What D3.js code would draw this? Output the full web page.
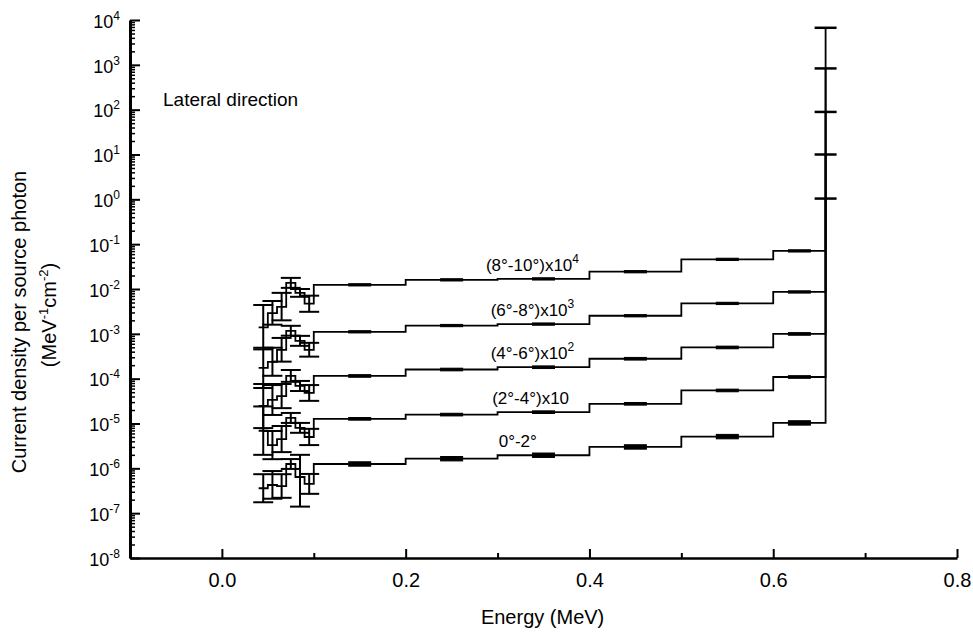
<!DOCTYPE html>
<html>
<head>
<meta charset="utf-8">
<script src="https://cdn.jsdelivr.net/npm/d3@7"></script>
<style>
body { margin: 0; background: #fff; }
svg text { font-family: "Liberation Sans", Arial, Helvetica, sans-serif; fill: #000; }
</style>
</head>
<body>
<svg id="svg" width="973" height="633"></svg>
<script>
// bin edges (MeV)
const lowEdges = [0.04, 0.05, 0.06, 0.07, 0.08, 0.09, 0.1];
const highEdges = [0.1, 0.2, 0.3, 0.4, 0.5, 0.6, 0.657];
const peakEnergy = 0.657;

const xTicks = [0.0, 0.2, 0.4, 0.6, 0.8];
const xMinorTicks = [0.1, 0.3, 0.5, 0.7];
const yTickExps = [-8, -7, -6, -5, -4, -3, -2, -1, 0, 1, 2, 3, 4];

// (8-10 deg) x 10^4
const low8to10 = [1.4e-3, 2.9e-3, 4.0e-3, 1.37e-2, 8.2e-3, 4.7e-3];
const lowLo8to10 = [4.5e-4, 1.6e-3, 2.0e-3, 1.06e-2, 6.7e-3, 3.1e-3];
const lowHi8to10 = [4.4e-3, 5.4e-3, 8.2e-3, 1.77e-2, 1.0e-2, 7.1e-3];
const high8to10 = [0.0124, 0.0160, 0.0168, 0.0243, 0.0458, 0.0708];

// (6-8 deg) x 10^3
const low6to8 = [1.74e-4, 2.37e-4, 4.4e-4, 1.17e-3, 7.0e-4, 4.4e-4];
const lowLo6to8 = [6.2e-5, 1.16e-4, 2.4e-4, 9.1e-4, 5.4e-4, 3.1e-4];
const lowHi6to8 = [4.9e-4, 4.9e-4, 8.1e-4, 1.51e-3, 9.0e-4, 6.3e-4];
const high6to8 = [1.11e-3, 1.53e-3, 1.65e-3, 2.53e-3, 4.77e-3, 8.6e-3];

// (4-6 deg) x 10^2
const low4to6 = [2.46e-5, 3.35e-5, 4.1e-5, 1.15e-4, 6.9e-5, 4.8e-5];
const lowLo4to6 = [7.9e-6, 1.55e-5, 2.2e-5, 8.5e-5, 5.3e-5, 3.2e-5];
const lowHi4to6 = [7.6e-5, 7.2e-5, 7.6e-5, 1.56e-4, 8.9e-5, 7.2e-5];
const high4to6 = [1.15e-4, 1.6e-4, 1.8e-4, 2.78e-4, 4.97e-4, 9.95e-4];

// (2-4 deg) x 10
const low2to4 = [6.9e-6, 3.3e-6, 4.5e-6, 1.33e-5, 8.0e-6, 5.0e-6];
const lowLo2to4 = [2.0e-6, 1.6e-6, 2.3e-6, 1.03e-5, 6.2e-6, 3.3e-6];
const lowHi2to4 = [2.4e-5, 6.8e-6, 8.8e-6, 1.72e-5, 1.03e-5, 7.6e-6];
const high2to4 = [1.27e-5, 1.58e-5, 1.79e-5, 2.75e-5, 5.46e-5, 1.09e-4];

// 0-2 deg
const low0to2 = [3.6e-7, 4.25e-7, 4.0e-7, 1.25e-6, 6.4e-7, 4.5e-7];
const lowLo0to2 = [1.75e-7, 2.1e-7, 2.2e-7, 9.7e-7, 1.4e-7, 2.7e-7];
const lowHi0to2 = [7.4e-7, 8.7e-7, 7.4e-7, 1.61e-6, 2.0e-6, 7.5e-7];
const high0to2 = [1.25e-6, 1.64e-6, 1.96e-6, 3.0e-6, 5.1e-6, 1.03e-5];

const peaks = [6.7e3, 832, 89, 10, 1.04];
const highRelErr = [0.06, 0.06, 0.07, 0.07, 0.12];
const labels = ["(8°-10°)x10", "(6°-8°)x10", "(4°-6°)x10", "(2°-4°)x10", "0°-2°"];
const labelSups = ["4", "3", "2", "", ""];
const labelE = [0.338, 0.338, 0.338, 0.336, 0.322];

var svg = d3.select("#svg");

var x = d3.scaleLinear().domain([-0.1, 0.8]).range([130, 957]);
var y = d3.scaleLog().domain([1e-8, 1e4]).range([558, 20]);

var series = [
    {low: low8to10, lo: lowLo8to10, hi: lowHi8to10, high: high8to10},
    {low: low6to8, lo: lowLo6to8, hi: lowHi6to8, high: high6to8},
    {low: low4to6, lo: lowLo4to6, hi: lowHi4to6, high: high4to6},
    {low: low2to4, lo: lowLo2to4, hi: lowHi2to4, high: high2to4},
    {low: low0to2, lo: lowLo0to2, hi: lowHi0to2, high: high0to2}
];
series.forEach((s, i) => {
    s.peak = peaks[i];
    s.err = highRelErr[i];
    s.label = labels[i];
    s.sup = labelSups[i];
    s.labelE = labelE[i];
});

//// axes
var yAxis = d3.axisLeft(y)
    .tickValues(yTickExps.map(e => Math.pow(10, e)))
    .tickSizeInner(-10)
    .tickSizeOuter(0)
    .tickPadding(10);

var gy = svg.append("g")
    .attr("class", "axis axis--y")
    .attr("transform", "translate(130,0)")
    .call(yAxis);
gy.select(".domain").attr("stroke-width", 3);
gy.selectAll(".tick line").attr("stroke-width", 2);
gy.selectAll(".tick text").each(function(d) {
    var t = d3.select(this);
    var ex = Math.round(Math.log10(d));
    t.text("10").attr("font-size", 18).attr("dy", "0.4em");
    t.append("tspan").attr("dy", -8).attr("font-size", 12).text(ex);
});

var yMinor = y.ticks(20).filter(d => Math.abs(Math.log10(d) - Math.round(Math.log10(d))) > 1e-6);
svg.append("g")
    .attr("class", "axis axis--y-minor")
    .attr("transform", "translate(130,0)")
    .call(d3.axisLeft(y).tickValues(yMinor).tickSizeInner(-5).tickSizeOuter(0).tickFormat(""))
    .call(g => g.select(".domain").remove())
    .selectAll(".tick line").attr("stroke-width", 1.5);

var gx = svg.append("g")
    .attr("class", "axis axis--x")
    .attr("transform", "translate(0,558)")
    .call(d3.axisBottom(x).tickValues(xTicks).tickSizeInner(-9).tickSizeOuter(0).tickPadding(15).tickFormat(d3.format(".1f")));
gx.select(".domain").attr("stroke-width", 2.5);
gx.selectAll(".tick line").attr("stroke-width", 2);
gx.selectAll(".tick text").attr("font-size", 20);

svg.append("g")
    .attr("class", "axis axis--x-minor")
    .attr("transform", "translate(0,558)")
    .call(d3.axisBottom(x).tickValues(xMinorTicks).tickSizeInner(-5).tickSizeOuter(0).tickFormat(""))
    .call(g => g.select(".domain").remove())
    .selectAll(".tick line").attr("stroke-width", 2);

//// titles
svg.append("text")
    .attr("x", x(0.349))
    .attr("y", 624)
    .attr("text-anchor", "middle")
    .attr("font-size", 20)
    .text("Energy (MeV)");

svg.append("text")
    .attr("transform", "translate(26,322) rotate(-90)")
    .attr("text-anchor", "middle")
    .attr("font-size", 20)
    .text("Current density per source photon");

var yl2 = svg.append("text")
    .attr("transform", "translate(56,315) rotate(-90)")
    .attr("text-anchor", "middle")
    .attr("font-size", 20);
yl2.append("tspan").text("(MeV");
yl2.append("tspan").attr("dy", -8).attr("font-size", 13).text("-1");
yl2.append("tspan").attr("dy", 8).text("cm");
yl2.append("tspan").attr("dy", -8).attr("font-size", 13).text("-2");
yl2.append("tspan").attr("dy", 8).text(")");

svg.append("text")
    .attr("x", 163)
    .attr("y", 106)
    .attr("font-size", 19)
    .text("Lateral direction");

//// data
var line = d3.line()
    .x(d => x(d[0]))
    .y(d => y(d[1]))
    .curve(d3.curveStepAfter);

var plot = svg.append("g").attr("class", "plot");

series.forEach(s => {
    var pts = lowEdges.slice(0, -1).map((e, i) => [e, s.low[i]])
        .concat(highEdges.slice(0, -1).map((e, i) => [e, s.high[i]]))
        .concat([[peakEnergy, s.high[s.high.length - 1]], [peakEnergy, s.peak]]);

    var g = plot.append("g");

    g.append("path")
        .datum(pts)
        .attr("d", line)
        .attr("fill", "none")
        .attr("stroke", "#000")
        .attr("stroke-width", 1.8);

    // low energy error bars
    s.low.forEach((v, i) => {
        var cx = x((lowEdges[i] + lowEdges[i + 1]) / 2);
        g.append("line")
            .attr("x1", cx).attr("x2", cx)
            .attr("y1", y(s.lo[i])).attr("y2", y(s.hi[i]))
            .attr("stroke", "#000").attr("stroke-width", 2);
        [s.lo[i], s.hi[i]].forEach(b => {
            g.append("line")
                .attr("x1", cx - 10).attr("x2", cx + 10)
                .attr("y1", y(b)).attr("y2", y(b))
                .attr("stroke", "#000").attr("stroke-width", 2);
        });
    });

    // high energy error bars (short, look like thick dashes)
    s.high.forEach((v, i) => {
        var cx = x((highEdges[i] + highEdges[i + 1]) / 2);
        g.append("rect")
            .attr("x", cx - 11)
            .attr("width", 22)
            .attr("y", y(v * (1 + s.err)))
            .attr("height", y(v / (1 + s.err)) - y(v * (1 + s.err)))
            .attr("fill", "#000")
            .attr("stroke", "#000")
            .attr("stroke-width", 1);
    });

    // peak caps
    var px = x(peakEnergy);
    g.append("line")
        .attr("x1", px - 11).attr("x2", px + 11)
        .attr("y1", y(s.peak)).attr("y2", y(s.peak))
        .attr("stroke", "#000").attr("stroke-width", 2.5);

    // label
    var t = g.append("text")
        .attr("x", x(s.labelE))
        .attr("y", y(s.high[2]) - 8)
        .attr("text-anchor", "middle")
        .attr("font-size", 17)
        .text(s.label);
    if (s.sup) t.append("tspan").attr("dy", -8).attr("font-size", 12).text(s.sup);
});
</script>
</body>
</html>
